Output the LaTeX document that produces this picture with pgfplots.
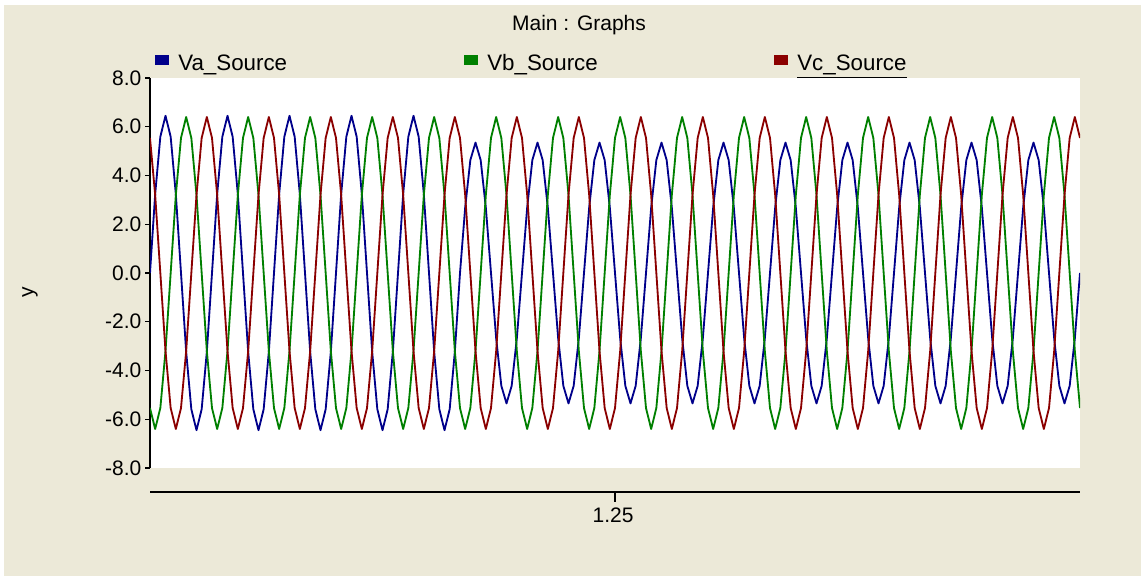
\documentclass[border=0pt]{standalone}
\usepackage{pgfplots}
\pgfplotsset{compat=1.18}
\usepackage{pgfplotstable}
\usepackage{fontspec}
\setmainfont{Liberation Sans}
\definecolor{bg}{HTML}{ECE9D8}
\definecolor{ca}{HTML}{00008B}
\definecolor{cb}{HTML}{008000}
\definecolor{cc}{HTML}{8B0000}
\pgfplotstableread{
k va vb vc
0 0 -5.54 5.54
1 3.23 -6.40 3.20
2 5.59 -5.54 0
3 6.45 -3.20 -3.20
4 5.59 0 -5.54
5 3.23 3.20 -6.40
6 0 5.54 -5.54
7 -3.23 6.40 -3.20
8 -5.59 5.54 0
9 -6.45 3.20 3.20
10 -5.59 0 5.54
11 -3.23 -3.20 6.40
12 0 -5.54 5.54
13 3.23 -6.40 3.20
14 5.59 -5.54 0
15 6.45 -3.20 -3.20
16 5.59 0 -5.54
17 3.23 3.20 -6.40
18 0 5.54 -5.54
19 -3.23 6.40 -3.20
20 -5.59 5.54 0
21 -6.45 3.20 3.20
22 -5.59 0 5.54
23 -3.23 -3.20 6.40
24 0 -5.54 5.54
25 3.23 -6.40 3.20
26 5.59 -5.54 0
27 6.45 -3.20 -3.20
28 5.59 0 -5.54
29 3.23 3.20 -6.40
30 0 5.54 -5.54
31 -3.23 6.40 -3.20
32 -5.59 5.54 0
33 -6.45 3.20 3.20
34 -5.59 0 5.54
35 -3.23 -3.20 6.40
36 0 -5.54 5.54
37 3.23 -6.40 3.20
38 5.59 -5.54 0
39 6.45 -3.20 -3.20
40 5.59 0 -5.54
41 3.23 3.20 -6.40
42 0 5.54 -5.54
43 -3.23 6.40 -3.20
44 -5.59 5.54 0
45 -6.45 3.20 3.20
46 -5.59 0 5.54
47 -3.23 -3.20 6.40
48 0 -5.54 5.54
49 3.23 -6.40 3.20
50 5.59 -5.54 0
51 6.45 -3.20 -3.20
52 5.59 0 -5.54
53 3.23 3.20 -6.40
54 0 5.54 -5.54
55 -3.23 6.40 -3.20
56 -5.59 5.54 0
57 -6.45 3.20 3.20
58 -5.59 0 5.54
59 -3.23 -3.20 6.40
60 0 -5.54 5.54
61 2.68 -6.40 3.20
62 4.63 -5.54 0
63 5.35 -3.20 -3.20
64 4.63 0 -5.54
65 2.68 3.20 -6.40
66 0 5.54 -5.54
67 -2.68 6.40 -3.20
68 -4.63 5.54 0
69 -5.35 3.20 3.20
70 -4.63 0 5.54
71 -2.68 -3.20 6.40
72 0 -5.54 5.54
73 2.68 -6.40 3.20
74 4.63 -5.54 0
75 5.35 -3.20 -3.20
76 4.63 0 -5.54
77 2.68 3.20 -6.40
78 0 5.54 -5.54
79 -2.68 6.40 -3.20
80 -4.63 5.54 0
81 -5.35 3.20 3.20
82 -4.63 0 5.54
83 -2.68 -3.20 6.40
84 0 -5.54 5.54
85 2.68 -6.40 3.20
86 4.63 -5.54 0
87 5.35 -3.20 -3.20
88 4.63 0 -5.54
89 2.68 3.20 -6.40
90 0 5.54 -5.54
91 -2.68 6.40 -3.20
92 -4.63 5.54 0
93 -5.35 3.20 3.20
94 -4.63 0 5.54
95 -2.68 -3.20 6.40
96 0 -5.54 5.54
97 2.68 -6.40 3.20
98 4.63 -5.54 0
99 5.35 -3.20 -3.20
100 4.63 0 -5.54
101 2.68 3.20 -6.40
102 0 5.54 -5.54
103 -2.68 6.40 -3.20
104 -4.63 5.54 0
105 -5.35 3.20 3.20
106 -4.63 0 5.54
107 -2.68 -3.20 6.40
108 0 -5.54 5.54
109 2.68 -6.40 3.20
110 4.63 -5.54 0
111 5.35 -3.20 -3.20
112 4.63 0 -5.54
113 2.68 3.20 -6.40
114 0 5.54 -5.54
115 -2.68 6.40 -3.20
116 -4.63 5.54 0
117 -5.35 3.20 3.20
118 -4.63 0 5.54
119 -2.68 -3.20 6.40
120 0 -5.54 5.54
121 2.68 -6.40 3.20
122 4.63 -5.54 0
123 5.35 -3.20 -3.20
124 4.63 0 -5.54
125 2.68 3.20 -6.40
126 0 5.54 -5.54
127 -2.68 6.40 -3.20
128 -4.63 5.54 0
129 -5.35 3.20 3.20
130 -4.63 0 5.54
131 -2.68 -3.20 6.40
132 0 -5.54 5.54
133 2.68 -6.40 3.20
134 4.63 -5.54 0
135 5.35 -3.20 -3.20
136 4.63 0 -5.54
137 2.68 3.20 -6.40
138 0 5.54 -5.54
139 -2.68 6.40 -3.20
140 -4.63 5.54 0
141 -5.35 3.20 3.20
142 -4.63 0 5.54
143 -2.68 -3.20 6.40
144 0 -5.54 5.54
145 2.68 -6.40 3.20
146 4.63 -5.54 0
147 5.35 -3.20 -3.20
148 4.63 0 -5.54
149 2.68 3.20 -6.40
150 0 5.54 -5.54
151 -2.68 6.40 -3.20
152 -4.63 5.54 0
153 -5.35 3.20 3.20
154 -4.63 0 5.54
155 -2.68 -3.20 6.40
156 0 -5.54 5.54
157 2.68 -6.40 3.20
158 4.63 -5.54 0
159 5.35 -3.20 -3.20
160 4.63 0 -5.54
161 2.68 3.20 -6.40
162 0 5.54 -5.54
163 -2.68 6.40 -3.20
164 -4.63 5.54 0
165 -5.35 3.20 3.20
166 -4.63 0 5.54
167 -2.68 -3.20 6.40
168 0 -5.54 5.54
169 2.68 -6.40 3.20
170 4.63 -5.54 0
171 5.35 -3.20 -3.20
172 4.63 0 -5.54
173 2.68 3.20 -6.40
174 0 5.54 -5.54
175 -2.68 6.40 -3.20
176 -4.63 5.54 0
177 -5.35 3.20 3.20
178 -4.63 0 5.54
179 -2.68 -3.20 6.40
180 0 -5.54 5.54
}\data
\begin{document}
\begin{tikzpicture}[font=\fontsize{12.6}{15}\selectfont]
\fill[white] (0pt,0pt) rectangle (684.6pt,345.6pt);
\fill[bg] (2.4pt,0pt) rectangle (684.6pt,342.6pt);
\begin{axis}[
  at={(90pt,64.8pt)}, anchor=south west,
  scale only axis, width=558pt, height=234pt,
  xmin=0, xmax=180, ymin=-8, ymax=8,
  axis background/.style={fill=white},
  axis x line=none, axis y line*=left,
  axis line style={line width=1.2pt, black},
  xtick=\empty,
  ytick={-8,-6,-4,-2,0,2,4,6,8},
  yticklabels={-8.0,-6.0,-4.0,-2.0,0.0,2.0,4.0,6.0,8.0},
  tick align=outside, major tick length=3pt,
  tick style={black, line width=0.8pt},
  yticklabel style={font=\fontsize{12.6}{15}\selectfont, inner sep=2pt},
  every axis plot/.append style={line width=1.1pt, line join=round},
]
\addplot[ca] table[x=k, y=va] {\data};
\addplot[cb] table[x=k, y=vb] {\data};
\addplot[cc] table[x=k, y=vc] {\data};
\end{axis}
% title
\node at (347.4pt,330.6pt) {Main : Graphs};
% legend
\begin{scope}[font=\fontsize{13.4}{16}\selectfont]
\fill[ca] (93pt,306.6pt) rectangle (101.4pt,312.6pt);
\node[anchor=base west, inner sep=0pt] at (106.8pt,303pt) {Va\_Source};
\fill[cb] (278.4pt,306.6pt) rectangle (286.8pt,312.6pt);
\node[anchor=base west, inner sep=0pt] at (292.2pt,303pt) {Vb\_Source};
\fill[cc] (464.4pt,306.6pt) rectangle (472.8pt,312.6pt);
\node[anchor=base west, inner sep=0pt] at (478.2pt,303pt) {\underline{Vc\_Source}};
\end{scope}
% y label
\node[rotate=90] at (18pt,170.4pt) {y};
% separate x axis
\draw[line width=1.2pt] (90pt,50.4pt) -- (648pt,50.4pt);
\draw[line width=0.8pt] (369pt,50.4pt) -- (369pt,44.4pt);
\node at (367.8pt,36.6pt) {1.25};
\end{tikzpicture}
\end{document}
